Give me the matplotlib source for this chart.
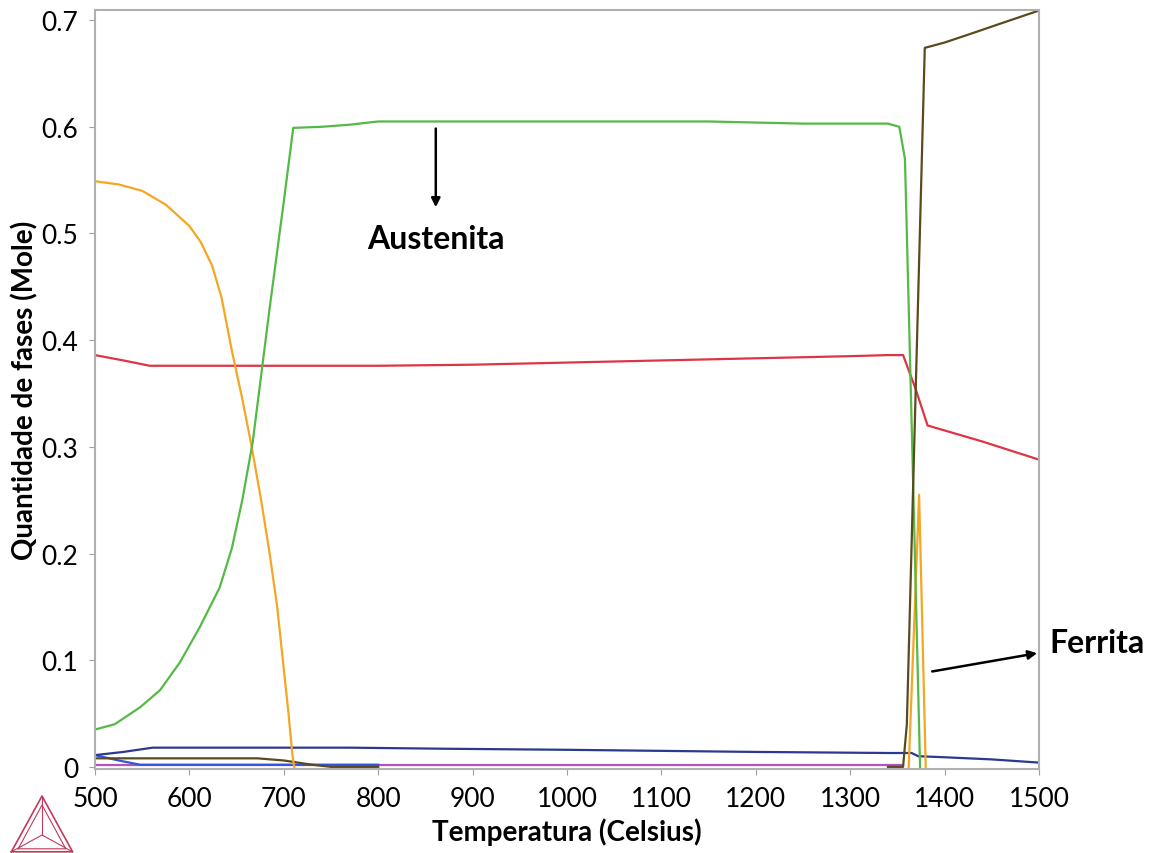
import numpy as np
import matplotlib
matplotlib.use("Agg")
import matplotlib.pyplot as plt

plt.rcParams['font.family'] = ['Lato', 'DejaVu Sans']

# austenita (green)
t_gamma = [500, 521, 548, 569, 590, 611, 632, 645, 656, 667, 685, 700, 710, 740, 770, 800,
           900, 1000, 1100, 1150, 1200, 1250, 1340, 1352, 1358, 1366, 1374]
v_gamma = [0.035, 0.040, 0.056, 0.072, 0.098, 0.131, 0.168, 0.205, 0.250, 0.304, 0.430,
           0.530, 0.599, 0.600, 0.602, 0.605, 0.605, 0.605, 0.605, 0.605, 0.604, 0.603,
           0.603, 0.600, 0.570, 0.290, 0.0]

# red phase
t_red = [500, 530, 558, 700, 800, 900, 1000, 1100, 1200, 1300, 1340, 1356, 1369, 1382, 1440, 1500]
v_red = [0.386, 0.381, 0.376, 0.376, 0.376, 0.377, 0.379, 0.381, 0.383, 0.385, 0.386,
         0.386, 0.355, 0.320, 0.305, 0.288]

# orange phase (two pieces, gap as nan)
t_orange = [500, 525, 550, 575, 600, 612, 624, 634, 645, 656, 666, 676, 685, 693, 699,
            705, 709, 711, np.nan, 1362, 1373, 1380]
v_orange = [0.549, 0.546, 0.540, 0.527, 0.507, 0.492, 0.470, 0.440, 0.390, 0.345, 0.300,
            0.250, 0.200, 0.150, 0.100, 0.050, 0.012, 0.0, np.nan, 0.0, 0.255, 0.0]

# olive/brown phase (high temperature)
t_brown = [1340, 1356, 1360, 1379, 1400, 1427, 1460, 1500]
v_brown = [0.0, 0.0, 0.040, 0.674, 0.679, 0.687, 0.697, 0.709]

# olive/brown phase (low temperature)
t_brown2 = [500, 600, 672, 700, 730, 750, 800]
v_brown2 = [0.008, 0.008, 0.008, 0.006, 0.002, 0.0, 0.0]

# navy phase
t_navy = [500, 530, 561, 700, 770, 870, 1000, 1100, 1150, 1200, 1340, 1365, 1372, 1400, 1450, 1500]
v_navy = [0.011, 0.014, 0.018, 0.018, 0.018, 0.017, 0.016, 0.015, 0.0145, 0.014,
          0.013, 0.013, 0.010, 0.009, 0.007, 0.004]

# blue phase
t_blue = [500, 525, 548, 600, 800]
v_blue = [0.011, 0.006, 0.002, 0.002, 0.002]

# magenta phase
t_mag = [500, 700, 900, 1100, 1300, 1356]
v_mag = [0.002, 0.002, 0.002, 0.002, 0.002, 0.002]

x_ticks = [500, 600, 700, 800, 900, 1000, 1100, 1200, 1300, 1400, 1500]
y_ticks = [0, 0.1, 0.2, 0.3, 0.4, 0.5, 0.6, 0.7]
y_ticklabels = ['0', '0.1', '0.2', '0.3', '0.4', '0.5', '0.6', '0.7']

fig = plt.figure(figsize=(11.62, 8.54), dpi=100)
ax = fig.add_axes([95 / 1162, 84 / 854, 944 / 1162, 759 / 854])

lw = 1.6
ax.plot(t_mag, v_mag, color='#b452c0', lw=lw)
ax.plot(t_blue, v_blue, color='#3355dd', lw=lw)
ax.plot(t_brown2, v_brown2, color='#5a4a1e', lw=lw)
ax.plot(t_navy, v_navy, color='#2b3990', lw=lw)
ax.plot(t_red, v_red, color='#dc3545', lw=lw)
ax.plot(t_orange, v_orange, color='#f5a623', lw=lw)
ax.plot(t_gamma, v_gamma, color='#55b947', lw=lw)
ax.plot(t_brown, v_brown, color='#5a4a1e', lw=lw)

ax.set_xlim(500, 1500)
ax.set_ylim(-0.002, 0.7095)
ax.set_xticks(x_ticks)
ax.set_yticks(y_ticks)
ax.set_yticklabels(y_ticklabels)
ax.tick_params(axis='both', labelsize=19, length=4, color='#a0a0a0', pad=8)

for s in ax.spines.values():
    s.set_color('#b0b0b0')
    s.set_linewidth(1.5)

ax.set_xlabel('Temperatura (Celsius)', fontsize=20, fontweight='bold', labelpad=5)
ax.set_ylabel('Quantidade de fases (Mole)', fontsize=20, fontweight='bold', labelpad=2)

# annotations
ax.annotate('', xy=(861, 0.522), xytext=(861, 0.601),
            arrowprops=dict(arrowstyle='-|>', color='black', lw=1.8, mutation_scale=13))
ax.text(861, 0.495, 'Austenita', fontsize=23, fontweight='bold', ha='center', va='center')

ax.annotate('', xy=(1501, 0.107), xytext=(1384, 0.089), annotation_clip=False,
            arrowprops=dict(arrowstyle='-|>', color='black', lw=1.8, mutation_scale=13))
ax.text(1511, 0.117, 'Ferrita', fontsize=23, fontweight='bold', ha='left', va='center',
        clip_on=False)

# logo (small triangle mark, bottom-left)
lg = fig.add_axes([8 / 1162, 0, 68 / 1162, 60 / 854])
lg.set_xlim(0, 1)
lg.set_ylim(0, 1)
lg.axis('off')
c = '#c03a5e'
lg.plot([0.05, 0.5, 0.95, 0.05], [0.02, 0.95, 0.02, 0.02], color=c, lw=1.2)
lg.plot([0.15, 0.5, 0.85, 0.15], [0.07, 0.80, 0.07, 0.07], color=c, lw=0.8)
lg.plot([0.5, 0.5], [0.95, 0.3], color=c, lw=0.8)
lg.plot([0.05, 0.5, 0.95], [0.02, 0.3, 0.02], color=c, lw=0.8)

fig.savefig('out.png', dpi=100)
